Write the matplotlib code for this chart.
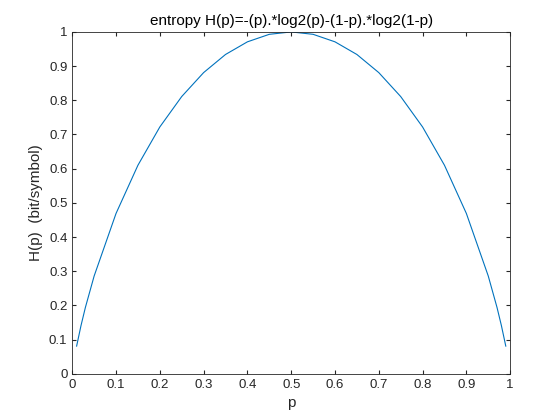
import matplotlib

matplotlib.use("Agg")
import matplotlib.pyplot as plt

# values
p_values = [0.01, 0.02, 0.03, 0.05, 0.10, 0.15, 0.20, 0.25, 0.30, 0.35, 0.40, 0.45, 0.50,
            0.55, 0.60, 0.65, 0.70, 0.75, 0.80, 0.85, 0.90, 0.95, 0.97, 0.98, 0.99]
h_values = [0.081, 0.141, 0.194, 0.286, 0.469, 0.610, 0.722, 0.811, 0.881, 0.934, 0.971, 0.993, 1.000,
            0.993, 0.971, 0.934, 0.881, 0.811, 0.722, 0.610, 0.469, 0.286, 0.194, 0.141, 0.081]
x_ticks = [0, 0.1, 0.2, 0.3, 0.4, 0.5, 0.6, 0.7, 0.8, 0.9, 1]
y_ticks = [0, 0.1, 0.2, 0.3, 0.4, 0.5, 0.6, 0.7, 0.8, 0.9, 1]

plt.rcParams["font.family"] = ["Liberation Sans", "DejaVu Sans"]

fig = plt.figure(figsize=(5.6, 4.2), dpi=100)
ax = fig.add_axes([0.129, 0.110, 0.782, 0.814])
ax.plot(p_values, h_values, color="#0072BD", linewidth=0.8)
ax.set_xlim(0, 1)
ax.set_ylim(0, 1)
ax.set_xticks(x_ticks)
ax.set_xticklabels([f"{t:g}" for t in x_ticks])
ax.set_yticks(y_ticks)
ax.set_yticklabels([f"{t:g}" for t in y_ticks])
ax.tick_params(direction="in", top=True, right=True, labelsize=9.5, colors="#262626", length=3)
for spine in ax.spines.values():
    spine.set_color("#262626")
    spine.set_linewidth(0.6)
ax.set_xlabel("p", fontsize=11, color="#262626")
ax.set_ylabel("H(p)  (bit/symbol)", fontsize=11, color="#262626")
ax.set_title("entropy H(p)=-(p).*log2(p)-(1-p).*log2(1-p)", fontsize=11, pad=5)
fig.savefig("out.png")
